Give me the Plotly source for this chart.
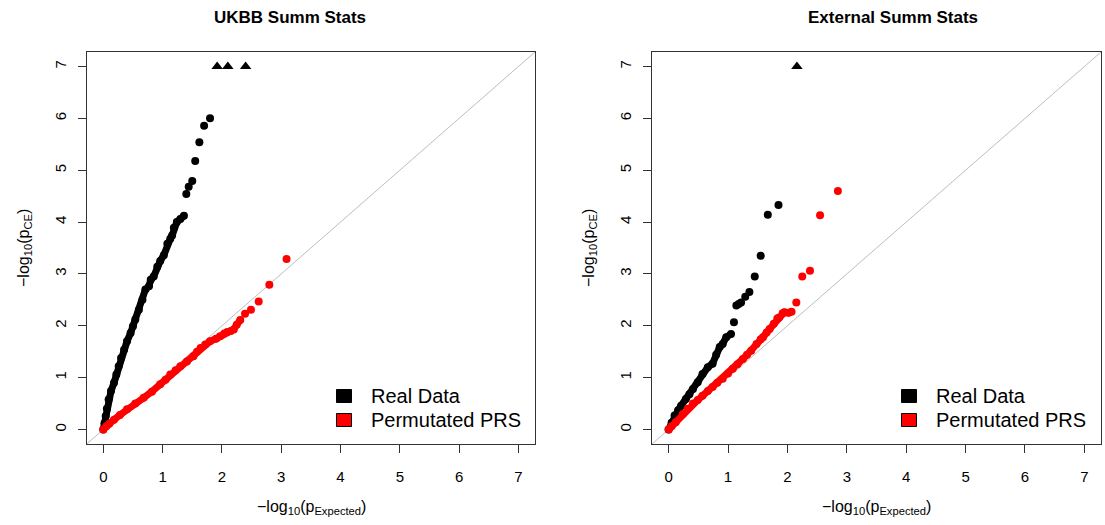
import plotly.graph_objects as go

W, H = 1105, 525

# ---------------- data ----------------
# UKBB panel - Real Data: dense body then sparse tail
ukbb_real_body_x = [0.00, 0.02, 0.04, 0.06, 0.09, 0.13, 0.18, 0.22, 0.26, 0.30, 0.35, 0.40, 0.46, 0.50,
                    0.54, 0.60, 0.66, 0.71, 0.77, 0.80, 0.85, 0.91, 0.96, 1.02, 1.08, 1.13, 1.16, 1.19,
                    1.24, 1.30, 1.36]
ukbb_real_body_y = [0.00, 0.12, 0.26, 0.40, 0.58, 0.74, 0.90, 1.06, 1.22, 1.38, 1.54, 1.70, 1.86, 1.99,
                    2.12, 2.31, 2.50, 2.70, 2.76, 2.89, 2.95, 3.14, 3.25, 3.36, 3.58, 3.68, 3.74, 3.89,
                    4.00, 4.06, 4.12]
ukbb_real_tail_x = [1.40, 1.44, 1.50, 1.55, 1.62, 1.70, 1.80]
ukbb_real_tail_y = [4.54, 4.68, 4.79, 5.18, 5.54, 5.86, 6.00]
ukbb_real_cap_x = [1.92, 2.10, 2.40]
ukbb_real_cap_y = [7.0, 7.0, 7.0]

# UKBB panel - Permutated PRS
ukbb_perm_body_x = [0.00, 0.05, 0.10, 0.18, 0.28, 0.40, 0.54, 0.68, 0.82, 0.96, 1.05, 1.13, 1.22, 1.30,
                    1.41, 1.52, 1.58, 1.64, 1.72, 1.80, 1.90, 1.97, 2.04, 2.09, 2.15, 2.20, 2.25, 2.31]
ukbb_perm_body_y = [0.00, 0.06, 0.11, 0.19, 0.28, 0.39, 0.50, 0.61, 0.73, 0.87, 0.96, 1.06, 1.14, 1.22,
                    1.31, 1.41, 1.50, 1.57, 1.64, 1.70, 1.75, 1.80, 1.85, 1.88, 1.90, 1.93, 2.02, 2.11]
ukbb_perm_tail_x = [2.39, 2.49, 2.62, 2.80, 3.09]
ukbb_perm_tail_y = [2.23, 2.31, 2.47, 2.79, 3.29]

# External panel - Real Data
ext_real_body_x = [0.00, 0.05, 0.10, 0.16, 0.21, 0.29, 0.35, 0.41, 0.49, 0.57, 0.66, 0.74, 0.80, 0.86,
                   0.91, 0.97, 1.05]
ext_real_body_y = [0.00, 0.13, 0.27, 0.37, 0.46, 0.59, 0.68, 0.78, 0.91, 1.07, 1.20, 1.27, 1.44, 1.59,
                   1.65, 1.78, 1.84]
ext_real_tail_x = [1.10, 1.14, 1.18, 1.22, 1.29, 1.36, 1.45, 1.55, 1.67, 1.85]
ext_real_tail_y = [2.07, 2.39, 2.42, 2.45, 2.56, 2.65, 2.95, 3.35, 4.14, 4.33]
ext_real_cap_x = [2.16]
ext_real_cap_y = [7.0]

# External panel - Permutated PRS
ext_perm_body_x = [0.00, 0.05, 0.12, 0.24, 0.32, 0.41, 0.49, 0.57, 0.66, 0.74, 0.82, 0.91, 1.00, 1.08,
                   1.16, 1.25, 1.32, 1.39, 1.48, 1.55, 1.59, 1.65, 1.70, 1.77, 1.83, 1.86, 1.92, 1.95,
                   2.02, 2.07]
ext_perm_body_y = [0.00, 0.06, 0.14, 0.30, 0.40, 0.50, 0.57, 0.65, 0.74, 0.82, 0.90, 0.98, 1.08, 1.17,
                   1.26, 1.36, 1.44, 1.52, 1.65, 1.74, 1.78, 1.87, 1.94, 2.04, 2.14, 2.16, 2.24, 2.26,
                   2.25, 2.27]
ext_perm_tail_x = [2.15, 2.25, 2.38, 2.55, 2.85]
ext_perm_tail_y = [2.45, 2.95, 3.06, 4.13, 4.60]

tick_vals = [0, 1, 2, 3, 4, 5, 6, 7]
panel_titles = ["UKBB Summ Stats", "External Summ Stats"]
legend_labels = ["Real Data", "Permutated PRS"]
series_colors = ["#000000", "#FF0000"]

# ---------------- figure ----------------
FONT = "Liberation Sans, Arial, Helvetica, sans-serif"
MS = 8

fig = go.Figure()

def add_series(xa, ya, bx, by, tx, ty, color, cx=None, cy=None):
    fig.add_trace(go.Scatter(x=bx, y=by, mode="lines+markers", xaxis=xa, yaxis=ya,
                             line=dict(color=color, width=7), marker=dict(color=color, size=MS),
                             showlegend=False, hoverinfo="skip"))
    fig.add_trace(go.Scatter(x=tx, y=ty, mode="markers", xaxis=xa, yaxis=ya,
                             marker=dict(color=color, size=MS), showlegend=False, hoverinfo="skip"))
    if cx is not None:
        fig.add_trace(go.Scatter(x=cx, y=cy, mode="markers", xaxis=xa, yaxis=ya,
                                 marker=dict(color=color, size=10, symbol="triangle-up"),
                                 showlegend=False, hoverinfo="skip"))

add_series("x", "y", ukbb_real_body_x, ukbb_real_body_y, ukbb_real_tail_x, ukbb_real_tail_y,
           series_colors[0], ukbb_real_cap_x, ukbb_real_cap_y)
add_series("x", "y", ukbb_perm_body_x, ukbb_perm_body_y, ukbb_perm_tail_x, ukbb_perm_tail_y,
           series_colors[1])
add_series("x2", "y2", ext_real_body_x, ext_real_body_y, ext_real_tail_x, ext_real_tail_y,
           series_colors[0], ext_real_cap_x, ext_real_cap_y)
add_series("x2", "y2", ext_perm_body_x, ext_perm_body_y, ext_perm_tail_x, ext_perm_tail_y,
           series_colors[1])

RNG = [-0.28, 7.28]

def px(v):
    return v / W

def py(v):
    return 1 - v / H

xdoms = [[px(86.7), px(535.0)], [px(652.0), px(1101.0)]]
ydom = [py(444.0), py(52.0)]

axis_common = dict(range=RNG, tickvals=tick_vals, ticktext=[str(t) for t in tick_vals],
                   showgrid=False, zeroline=False, showline=True, mirror=True,
                   linecolor="#333333", linewidth=1, ticks="outside", ticklen=8,
                   tickcolor="#333333", tickwidth=1,
                   tickfont=dict(family=FONT, size=15, color="#000000"))

fig.update_layout(
    width=W, height=H, margin=dict(l=0, r=0, t=0, b=0),
    paper_bgcolor="white", plot_bgcolor="white",
    xaxis=dict(domain=xdoms[0], anchor="y", ticklabelstandoff=11, **axis_common),
    yaxis=dict(domain=ydom, anchor="x", tickangle=-90, ticklabelstandoff=6, **axis_common),
    xaxis2=dict(domain=xdoms[1], anchor="y2", ticklabelstandoff=11, **axis_common),
    yaxis2=dict(domain=ydom, anchor="x2", tickangle=-90, ticklabelstandoff=6, **axis_common),
)

# identity lines
for xr, yr in (("x", "y"), ("x2", "y2")):
    fig.add_shape(type="line", xref=xr, yref=yr, x0=RNG[0], y0=RNG[0], x1=RNG[1], y1=RNG[1],
                  line=dict(color="#BEBEBE", width=1), layer="below")

ann = []
title_cx = [290, 893]
xlab_cx = [311, 876]
ylab_cx = [25, 590]
for i in range(2):
    ann.append(dict(text="<b>" + panel_titles[i] + "</b>", x=px(title_cx[i]), y=py(17), xref="paper",
                    yref="paper", xanchor="center", yanchor="middle", showarrow=False,
                    font=dict(family=FONT, size=17, color="#000000")))
    ann.append(dict(text="\u2212log<sub>10</sub>(p<sub>Expected</sub>)", x=px(xlab_cx[i]), y=py(507),
                    xref="paper", yref="paper", xanchor="center", yanchor="middle", showarrow=False,
                    font=dict(family=FONT, size=16, color="#000000")))
    ann.append(dict(text="\u2212log<sub>10</sub>(p<sub>CE</sub>)", x=px(ylab_cx[i]), y=py(248),
                    xref="paper", yref="paper", xanchor="center", yanchor="middle", showarrow=False,
                    textangle=-90, font=dict(family=FONT, size=16, color="#000000")))

# legends
leg_sq_cx = [344, 909]
leg_txt_x = [369, 934]
leg_rows = [396, 420]
for i in range(2):
    for j in range(2):
        fig.add_shape(type="rect", xref="paper", yref="paper",
                      x0=px(leg_sq_cx[i] - 7.5), x1=px(leg_sq_cx[i] + 7.5),
                      y0=py(leg_rows[j] + 6.5), y1=py(leg_rows[j] - 6.5),
                      fillcolor=series_colors[j], line=dict(color="#000000", width=1))
        ann.append(dict(text=legend_labels[j], x=px(leg_txt_x[i]), y=py(leg_rows[j]), xref="paper",
                        yref="paper", xanchor="left", yanchor="middle", showarrow=False,
                        font=dict(family=FONT, size=20, color="#000000")))

fig.update_layout(annotations=ann)
fig.write_html("out.html")
